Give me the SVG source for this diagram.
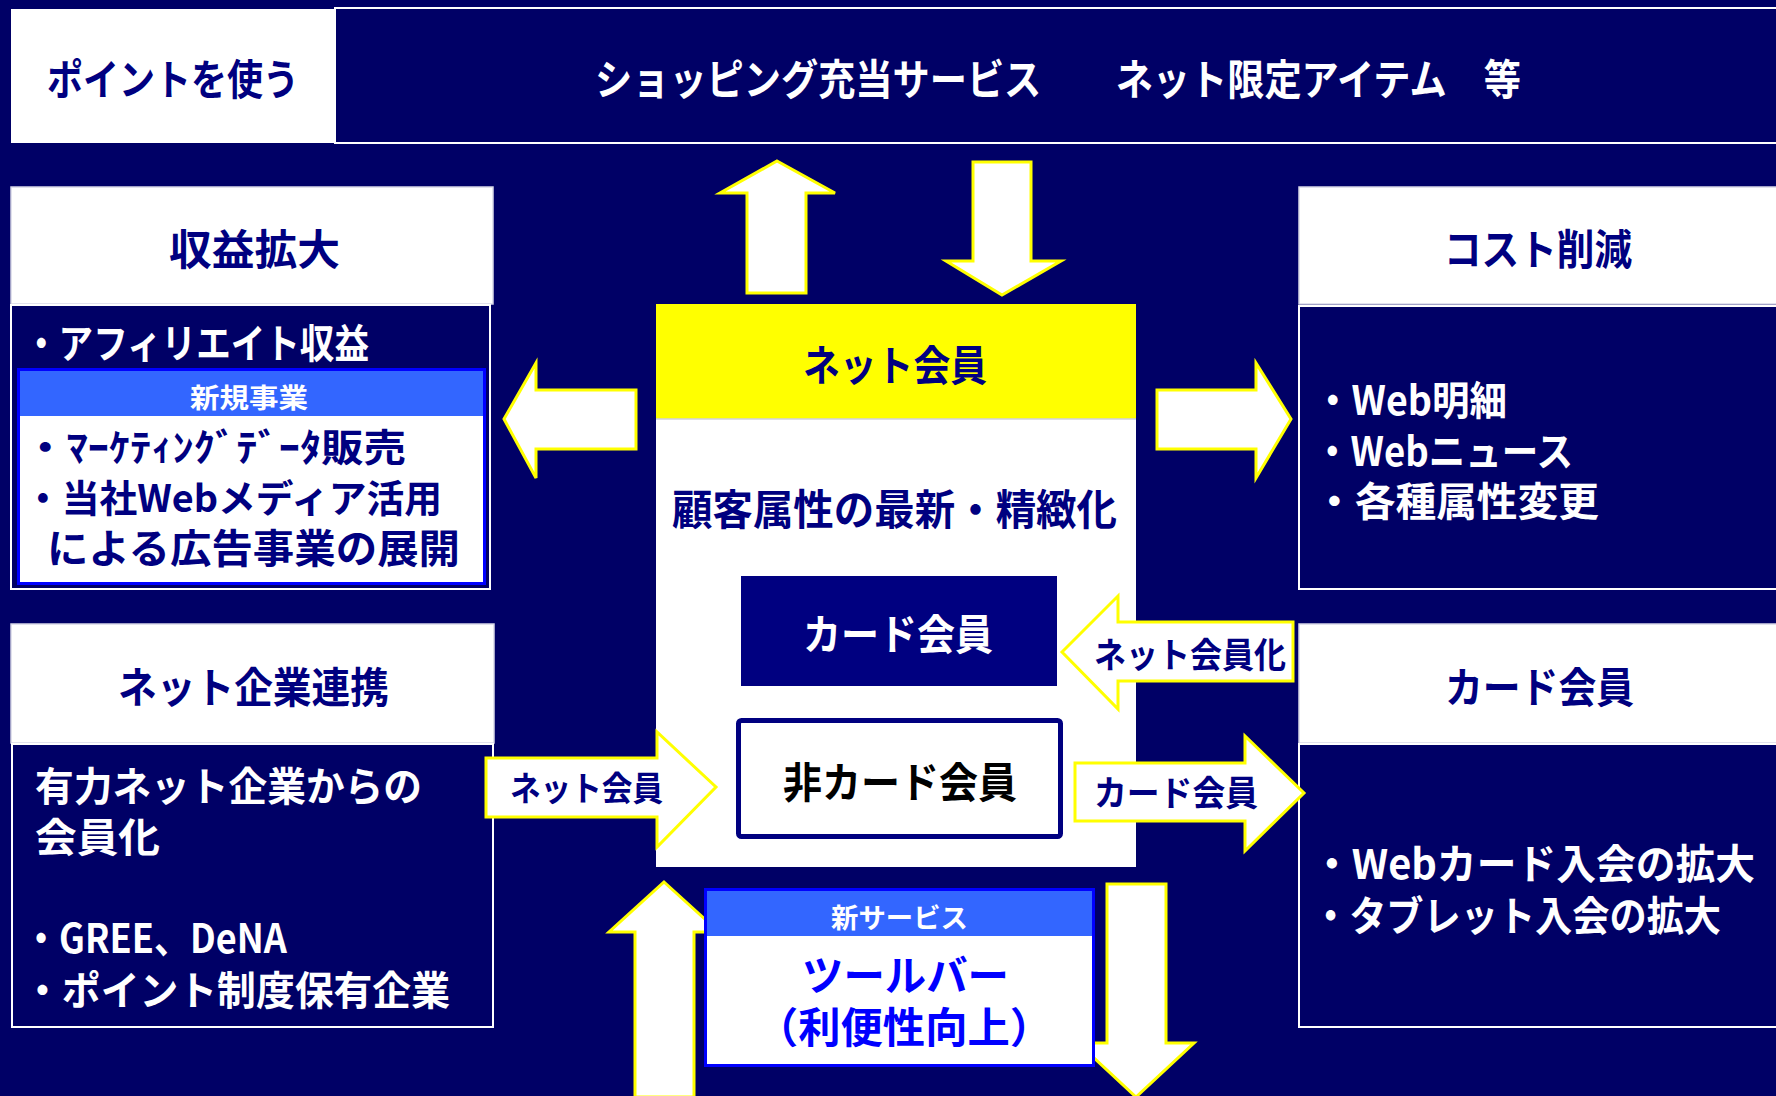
<svg xmlns="http://www.w3.org/2000/svg" width="1776" height="1096" viewBox="0 0 1776 1096">
<style>
text{font-family:"Noto Sans CJK JP","Noto Sans",sans-serif;font-weight:700}
.nv{fill:#000080}
.wt{fill:#ffffff}
.bl{fill:#0000ff}
.bk{fill:#000000}
.f42{font-size:42px}
.f41{font-size:41px}
.f40{font-size:40px}
.f38{font-size:38px}
.f35{font-size:35px}
.f34{font-size:34px}
.f27{font-size:27px}
.hdr{fill:#ffffff;stroke:#d8d8e8;stroke-width:1.5}
.dk{fill:#000066;stroke:#ffffff;stroke-width:2}
.arr{fill:#ffffff;stroke:#ffff00;stroke-width:3;stroke-linejoin:miter}
</style>
<rect x="0" y="0" width="1776" height="1096" fill="#000066"/>

<g id="top-point">
<rect x="11" y="9" width="323" height="134" fill="#ffffff"/>
<text class="nv f42" x="47" y="94.5" textLength="252" lengthAdjust="spacingAndGlyphs">ポイントを使う</text>
</g>
<g id="top-services">
<rect x="335" y="8" width="1460" height="135" fill="#000066" stroke="#ffffff" stroke-width="2"/>
<text class="wt f42" x="595" y="94.5" textLength="926" lengthAdjust="spacingAndGlyphs" xml:space="preserve">ショッピング充当サービス　　ネット限定アイテム　等</text>
</g>

<g id="revenue">
<rect class="hdr" x="11" y="187" width="482" height="117"/>
<text class="nv f42" x="169" y="264.5" textLength="171" lengthAdjust="spacingAndGlyphs">収益拡大</text>
<rect class="dk" x="11" y="305" width="479" height="284"/>
<text class="wt f40" x="24" y="358" textLength="345" lengthAdjust="spacingAndGlyphs">・アフィリエイト収益</text>
</g>
<g id="new-business">
<rect x="18.5" y="369.5" width="466" height="214" fill="#ffffff" stroke="#0000ff" stroke-width="3"/>
<rect x="20" y="371" width="463" height="45" fill="#3366ff"/>
<text class="wt f27" x="190" y="408" textLength="118" lengthAdjust="spacingAndGlyphs">新規事業</text>
<text class="nv f38" x="24" y="461" textLength="382" lengthAdjust="spacingAndGlyphs">・ﾏｰｹﾃｨﾝｸﾞﾃﾞｰﾀ販売</text>
<text class="nv f38" x="24" y="512" textLength="418" lengthAdjust="spacingAndGlyphs">・当社Webメディア活用</text>
<text class="nv f40" x="47" y="563" textLength="413" lengthAdjust="spacingAndGlyphs">による広告事業の展開</text>
</g>

<g id="cost">
<rect class="hdr" x="1299" y="187" width="490" height="117"/>
<text class="nv f42" x="1444" y="264.5" textLength="188" lengthAdjust="spacingAndGlyphs">コスト削減</text>
<rect class="dk" x="1299" y="306" width="490" height="283"/>
<text class="wt f40" x="1314" y="415" textLength="193" lengthAdjust="spacingAndGlyphs">・Web明細</text>
<text class="wt f40" x="1314" y="466" textLength="259" lengthAdjust="spacingAndGlyphs">・Webニュース</text>
<text class="wt f40" x="1314" y="516" textLength="285" lengthAdjust="spacingAndGlyphs">・各種属性変更</text>
</g>

<g id="net-alliance">
<rect class="hdr" x="11" y="624" width="483" height="119"/>
<text class="nv f42" x="118" y="702.5" textLength="271" lengthAdjust="spacingAndGlyphs">ネット企業連携</text>
<rect class="dk" x="12" y="744" width="481" height="283"/>
<text class="wt f40" x="35" y="801" textLength="387" lengthAdjust="spacingAndGlyphs">有力ネット企業からの</text>
<text class="wt f40" x="35" y="852" textLength="125" lengthAdjust="spacingAndGlyphs">会員化</text>
<text class="wt f40" x="23" y="953" textLength="264" lengthAdjust="spacingAndGlyphs">・GREE、DeNA</text>
<text class="wt f40" x="23" y="1005" textLength="427" lengthAdjust="spacingAndGlyphs">・ポイント制度保有企業</text>
</g>

<g id="card-members">
<rect class="hdr" x="1299" y="624" width="490" height="119"/>
<text class="nv f42" x="1445" y="702.5" textLength="189" lengthAdjust="spacingAndGlyphs">カード会員</text>
<rect class="dk" x="1299" y="744" width="490" height="283"/>
<text class="wt f41" x="1312" y="878.5" textLength="443" lengthAdjust="spacingAndGlyphs">・Webカード入会の拡大</text>
<text class="wt f41" x="1312" y="930.5" textLength="409" lengthAdjust="spacingAndGlyphs">・タブレット入会の拡大</text>
</g>

<g id="center">
<rect x="656" y="304" width="480" height="563" fill="#ffffff"/>
<rect x="656" y="304" width="480" height="115" fill="#ffff00"/>
<line x1="656" y1="419" x2="1136" y2="419" stroke="#d0d0e0" stroke-width="1.5"/>
<text class="nv f42" x="803" y="380.5" textLength="184" lengthAdjust="spacingAndGlyphs">ネット会員</text>
<text class="nv f42" x="672" y="524.5" textLength="445" lengthAdjust="spacingAndGlyphs">顧客属性の最新・精緻化</text>
</g>
<g id="card-member-box">
<rect x="741" y="576" width="316" height="110" fill="#000080"/>
<text class="wt f42" x="803" y="649.5" textLength="190" lengthAdjust="spacingAndGlyphs">カード会員</text>
</g>
<g id="non-card-member-box">
<rect x="738.5" y="720.5" width="322" height="116" rx="3" fill="#ffffff" stroke="#000080" stroke-width="5"/>
<text class="bk f42" x="783" y="797.5" textLength="234" lengthAdjust="spacingAndGlyphs">非カード会員</text>
</g>

<g id="connectors">
<polygon class="arr" points="777,161 835,193 806,193 806,293 747,293 747,193 720,193"/>
<polygon class="arr" points="973,162 1031,162 1031,261 1061,261 1002,295 946,261 973,261"/>
<polygon class="arr" points="504,419 536,363 536,390 636,390 636,449 536,449 536,478"/>
<polygon class="arr" points="1157,390 1256,390 1256,363 1291,419 1256,478 1256,449 1157,449"/>
<polygon class="arr" points="1062,652 1118,596 1118,622 1293,622 1293,681 1118,681 1118,709"/>
<text class="nv f35" x="1094" y="668" textLength="192" lengthAdjust="spacingAndGlyphs">ネット会員化</text>
<polygon class="arr" points="1075,763 1245,763 1245,736 1304,793 1245,851 1245,821 1075,821"/>
<text class="nv f35" x="1094" y="806" textLength="164" lengthAdjust="spacingAndGlyphs">カード会員</text>
<polygon class="arr" points="486,758 657,758 657,732 716,787 657,847 657,817 486,817"/>
<text class="nv f34" x="510" y="800.6" textLength="153" lengthAdjust="spacingAndGlyphs">ネット会員</text>
<polygon class="arr" points="664,882 719,932 694,932 694,1097 635,1097 635,932 609,932"/>
<polygon class="arr" points="1107,884 1166,884 1166,1043 1194,1043 1136,1097 1078,1043 1107,1043"/>
</g>

<g id="new-service">
<rect x="705.5" y="889.5" width="388" height="176" fill="#ffffff" stroke="#0000ff" stroke-width="3"/>
<rect x="707" y="891" width="385" height="45" fill="#3366ff"/>
<text class="wt f27" x="831" y="928" textLength="137" lengthAdjust="spacingAndGlyphs">新サービス</text>
<text class="bl f42" x="802" y="990.5" textLength="207" lengthAdjust="spacingAndGlyphs">ツールバー</text>
<text class="bl f42" x="756" y="1042.5" textLength="296" lengthAdjust="spacingAndGlyphs">（利便性向上）</text>
</g>
</svg>
